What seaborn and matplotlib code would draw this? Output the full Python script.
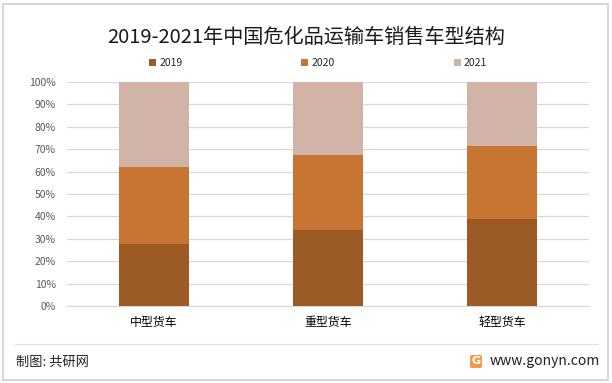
import pandas as pd
import seaborn as sns
import matplotlib.pyplot as plt
from matplotlib.patches import Patch, Rectangle, FancyBboxPatch
from matplotlib.lines import Line2D

# chart data (share of sales, %)
categories = ["中型货车", "重型货车", "轻型货车"]
years = ["2019", "2020", "2021"]
share_2019 = [27.8, 33.9, 38.8]
share_2020 = [34.2, 33.5, 32.6]
share_2021 = [38.0, 32.6, 28.6]
y_ticks = [0, 10, 20, 30, 40, 50, 60, 70, 80, 90, 100]

colors = {"2019": "#9C5A24", "2020": "#C87533", "2021": "#D2B3A8"}

sns.set_style("white")
plt.rcParams["font.family"] = ["Noto Sans CJK SC", "DejaVu Sans"]

df = pd.DataFrame({"cat": categories, "2019": share_2019,
                   "2020": share_2020, "2021": share_2021})
df["c2020"] = df["2019"] + df["2020"]
df["c2021"] = df["c2020"] + df["2021"]

fig = plt.figure(figsize=(6.12, 3.83), dpi=100)
ax = fig.add_axes([67 / 612, 1 - 306 / 383, 522 / 612, 224 / 383])

'''
Stacked bars: draw cumulative totals from the top down
'''
for col, year in [("c2021", "2021"), ("c2020", "2020"), ("2019", "2019")]:
    sns.barplot(data=df, x="cat", y=col, color=colors[year], saturation=1,
                width=0.4, ax=ax, zorder=3, linewidth=0, edgecolor="none")

ax.set_ylim(0, 100)
ax.set_xlim(-0.5, 2.5)
ax.set_yticks(y_ticks)
ax.set_yticklabels([f"{t}%" for t in y_ticks], fontsize=7.5, color="#595959")
ax.tick_params(axis="y", length=0, pad=8)
ax.tick_params(axis="x", length=0, pad=7, labelsize=8.6, labelcolor="#000000")
ax.set_xlabel("")
ax.set_ylabel("")
ax.grid(axis="y", color="#D9D9D9", linewidth=0.9, zorder=0)
for s in ["left", "right", "top"]:
    ax.spines[s].set_visible(False)
ax.spines["bottom"].set_color("#D9D9D9")
ax.spines["bottom"].set_linewidth(0.9)

fig.text(0.5, 1 - 37 / 383, "2019-2021年中国危化品运输车销售车型结构",
         ha="center", va="center", fontsize=14.5, color="#1a1a1a")

handles = [Patch(facecolor=colors[y], edgecolor="none") for y in years]
fig.legend(handles, years, loc="center", bbox_to_anchor=(318 / 612, 1 - 63 / 383),
           ncol=3, frameon=False, fontsize=7.5, handlelength=0.7, handleheight=0.7,
           handletextpad=0.3, columnspacing=11.4)

# footer
fig.add_artist(Line2D([15 / 612, 598 / 612], [1 - 344 / 383, 1 - 344 / 383],
                      color="#E0E0E0", linewidth=0.9, transform=fig.transFigure))
fig.text(16 / 612, 1 - 362 / 383, "制图: 共研网", ha="left", va="center",
         fontsize=9.5, color="#222222")
fig.text(600 / 612, 1 - 361 / 383, "www.gonyn.com", ha="right", va="center",
         fontsize=10, color="#222222")
fig.add_artist(FancyBboxPatch((470 / 612, 1 - 368 / 383), 12 / 612, 13 / 383,
                              boxstyle="round,pad=0,rounding_size=0.004",
                              facecolor="#F39A4A", edgecolor="none",
                              transform=fig.transFigure))
fig.text(476 / 612, 1 - 361.5 / 383, "G", ha="center", va="center",
         fontsize=8, fontweight="bold", color="white", family="DejaVu Sans")

# outer frame
fig.add_artist(Rectangle((3 / 612, 3 / 383), 605 / 612, 376 / 383, fill=False,
                         edgecolor="#D0D0D0", linewidth=1.2, transform=fig.transFigure))

plt.savefig("out.png", dpi=100)
plt.close()
